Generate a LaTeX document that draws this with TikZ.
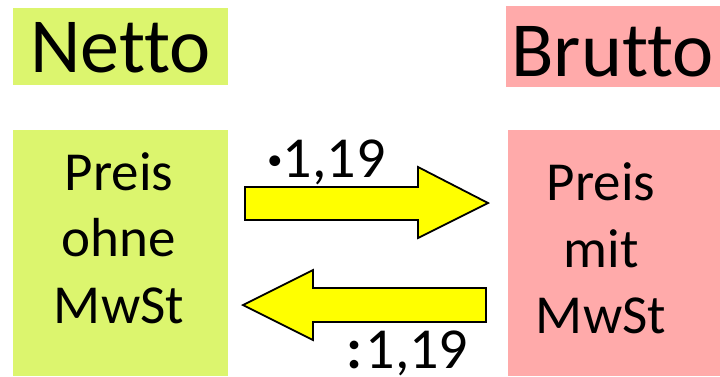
\documentclass[tikz,border=0pt]{standalone}
\usepackage{fontspec}
\setmainfont[Ligatures=NoCommon]{Carlito}
\definecolor{lime}{RGB}{220,245,110}
\definecolor{rosa}{RGB}{255,170,170}
\definecolor{pfeil}{RGB}{255,255,0}
\begin{document}
\begin{tikzpicture}[x=1pt,y=-1pt,
  limebox/.style={fill=lime},
  rosabox/.style={fill=rosa},
  titletext/.style={anchor=base,inner sep=0pt,font=\fontsize{78}{90}\selectfont},
  boxtext/.style={anchor=base,inner sep=0pt,font=\fontsize{55}{66}\selectfont},
  factortext/.style={anchor=base,inner sep=0pt,font=\fontsize{58}{68}\selectfont},
  blockarrow/.style={fill=pfeil,draw=black,line width=1.8pt,line join=miter}]
\useasboundingbox (0,0) rectangle (720,376);
% title boxes
\fill[limebox] (13,8) rectangle (228,85);
\fill[rosabox] (506,6) rectangle (720,87);
\node[titletext] (netto) at (120.5,72) {Netto};
\node[titletext] (brutto) at (612.5,76) {Brutto};
% price boxes
\fill[limebox] (13,130) rectangle (228,376);
\fill[rosabox] (508,130) rectangle (720,376);
\node[boxtext] (l1) at (119,190) {Preis};
\node[boxtext] (l2) at (119,256.5) {ohne};
\node[boxtext] (l3) at (119,323) {MwSt};
\node[boxtext] (r1) at (601,200) {Preis};
\node[boxtext] (r2) at (601,267) {mit};
\node[boxtext] (r3) at (601,333) {MwSt};
% arrows
\draw[blockarrow] (245,187) -- (418,187) -- (418,167) -- (488,203) -- (418,238) -- (418,220) -- (245,220) -- cycle;
\draw[blockarrow] (486,288) -- (313,288) -- (313,270) -- (243,305) -- (313,340) -- (313,322) -- (486,322) -- cycle;
\node[factortext] (mal) at (326.5,177) {\textbf{·}1,19};
\node[factortext] (durch) at (407.5,368) {\textbf{:}\kern3pt 1,19};
\end{tikzpicture}
\end{document}
